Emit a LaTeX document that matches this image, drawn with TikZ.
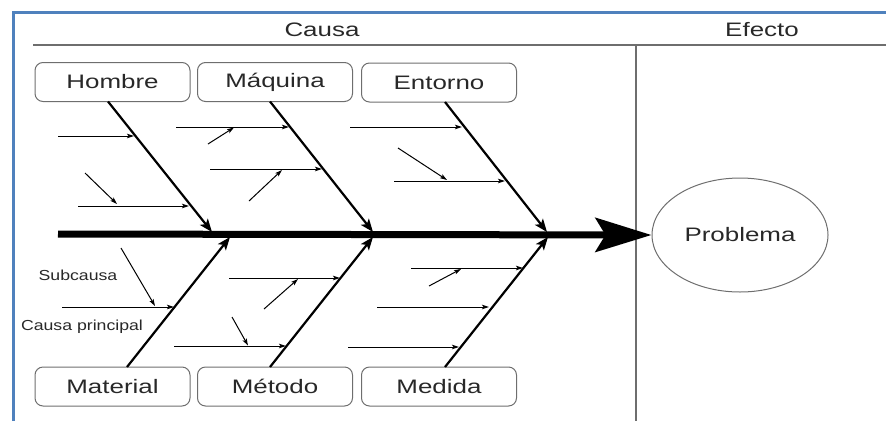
\documentclass[tikz,border=0pt]{standalone}
\usepackage{fontspec}
\setmainfont{Liberation Sans}
\newfontfamily\bigf{Liberation Sans}[FakeStretch=1.33]
\newfontfamily\smallf{Liberation Sans}[FakeStretch=1.22]
\usetikzlibrary{arrows.meta,shapes.geometric}
\definecolor{frameblue}{RGB}{79,129,189}
\definecolor{txt}{RGB}{40,40,40}
\definecolor{rule}{RGB}{110,110,110}
\tikzset{
  catbox/.style={draw=rule, line width=1pt, rounded corners=8pt, minimum width=155pt, minimum height=39pt, inner sep=0pt, text=txt, font=\bigf\fontsize{19.5}{22}\selectfont},
  headtxt/.style={text=txt, font=\bigf\fontsize{19.5}{22}\selectfont, inner sep=0pt},
  smalltxt/.style={text=txt, font=\smallf\fontsize{14.5}{17}\selectfont, inner sep=0pt},
  bone/.style={line width=2.2pt, -{Stealth[length=13pt,width=10pt,inset=3pt]}},
  sub/.style={line width=1pt, -{Stealth[length=7pt,width=4.5pt,inset=1.5pt]}},
}
\begin{document}
\begin{tikzpicture}[x=1pt,y=-1pt]
\useasboundingbox (0,0) rectangle (886,421);
% frame
\draw[frameblue, line width=3pt] (13,421) -- (13,12) -- (886,12);
% header and divider
\draw[rule, line width=1.6pt] (33,45) -- (886,45);
\draw[rule, line width=1.6pt] (636,45) -- (636,421);
\node[headtxt] (causa) at (322,30) {Causa};
\node[headtxt] (efecto) at (762,30) {Efecto};
% boxes
\node[catbox] (hombre) at (112.5,82) {Hombre};
\node[catbox] (maquina) at (275,82) {Máquina};
\node[catbox] (entorno) at (439,82.5) {Entorno};
\node[catbox] (material) at (112.5,386.5) {Material};
\node[catbox] (metodo) at (275,386.5) {Método};
\node[catbox] (medida) at (439,386.5) {Medida};
% problem
\node[ellipse, draw=rule, line width=1pt, minimum width=176pt, minimum height=114pt, inner sep=0pt, headtxt] (problema) at (740,235) {Problema};
% spine
\coordinate (spineS) at (58,234);
\draw[line width=7pt, -{Stealth[length=56pt,width=34pt,inset=10pt]}] (spineS) -- (problema.west);
% bones
\coordinate (hS) at (108,101.5); \coordinate (hE) at (212,232);
\coordinate (qS) at (270,101.5); \coordinate (qE) at (373,232);
\coordinate (eS) at (445,102); \coordinate (eE) at (547,232);
\coordinate (mS) at (127,367); \coordinate (mE) at (230,237);
\coordinate (tS) at (270,367); \coordinate (tE) at (373,237);
\coordinate (dS) at (445,367); \coordinate (dE) at (548,237);
\draw[bone] (hS) -- (hE);
\draw[bone] (qS) -- (qE);
\draw[bone] (eS) -- (eE);
\draw[bone] (mS) -- (mE);
\draw[bone] (tS) -- (tE);
\draw[bone] (dS) -- (dE);
% Hombre subcauses
\draw[sub] (58,136) coordinate (h1a) -- (134,136) coordinate (h1b);
\draw[sub] (78,206) coordinate (h2a) -- (189,206) coordinate (h2b);
\draw[sub] (85,173) coordinate (h3a) -- (117,204) coordinate (h3b);
% Maquina subcauses
\draw[sub] (176,127) coordinate (q1a) -- (289,127) coordinate (q1b);
\draw[sub] (208,144) coordinate (q2a) -- (234,127.5) coordinate (q2b);
\draw[sub] (210,169) coordinate (q3a) -- (322,169) coordinate (q3b);
\draw[sub] (249,201) coordinate (q4a) -- (282,170) coordinate (q4b);
% Entorno subcauses
\draw[sub] (350,127) coordinate (e1a) -- (462,127) coordinate (e1b);
\draw[sub] (398,148) coordinate (e2a) -- (447,180) coordinate (e2b);
\draw[sub] (394,181) coordinate (e3a) -- (505,181) coordinate (e3b);
% Material subcauses
\draw[sub] (62,307) coordinate (m1a) -- (174,307) coordinate (m1b);
\draw[sub] (121,248) coordinate (m2a) -- (155,306) coordinate (m2b);
\node[smalltxt] (subcausa) at (78,275) {Subcausa};
\node[smalltxt] (causap) at (82,327) {Causa principal};
% Metodo subcauses
\draw[sub] (229,278) coordinate (t1a) -- (340,278) coordinate (t1b);
\draw[sub] (264,309) coordinate (t2a) -- (298,279) coordinate (t2b);
\draw[sub] (174,346) coordinate (t3a) -- (286,346) coordinate (t3b);
\draw[sub] (232,317) coordinate (t4a) -- (248,345.5) coordinate (t4b);
% Medida subcauses
\draw[sub] (411,268) coordinate (d1a) -- (523,268) coordinate (d1b);
\draw[sub] (429,286) coordinate (d2a) -- (461,269) coordinate (d2b);
\draw[sub] (377,307) coordinate (d3a) -- (489,307) coordinate (d3b);
\draw[sub] (348,347) coordinate (d4a) -- (459,347) coordinate (d4b);
\end{tikzpicture}
\end{document}
